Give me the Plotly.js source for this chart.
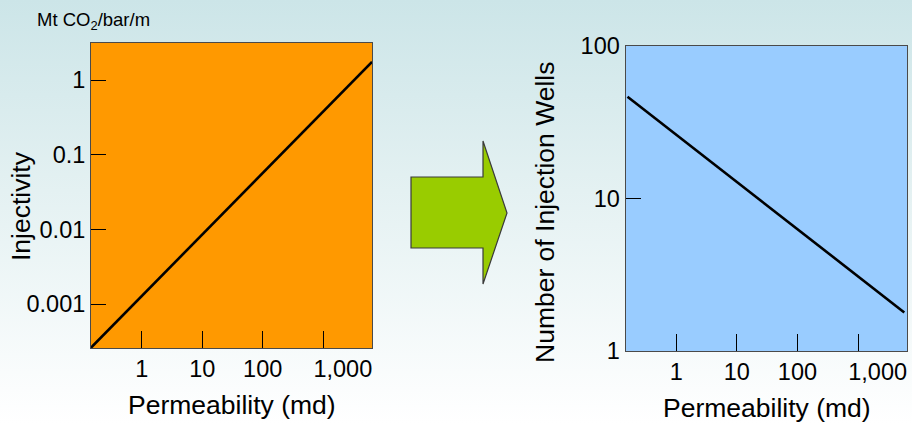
<!DOCTYPE html>
<html>
<head>
<meta charset="utf-8">
<script src="https://cdn.plot.ly/plotly-3.0.1.min.js"></script>
<style>
  html, body { margin: 0; padding: 0; }
  body { width: 912px; height: 424px; overflow: hidden;
         background: linear-gradient(to bottom, #cce5e8 0%, #e4f1f2 45%, #ffffff 100%); }
  #chart { width: 912px; height: 424px; }
</style>
</head>
<body>
<div id="chart"></div>
<script>
// ---- data ----
const permLeft = [0.145, 6400];          // permeability (md)
const injectivity = [0.00026, 1.75];     // Mt CO2/bar/m
const permRight = [0.157, 5800];         // permeability (md)
const wells = [46.5, 1.79];              // number of injection wells

const permTicks = [1, 10, 100, 1000];
// the "1,000" label sits to the right of its tick in the original
const permTickText = ['1', '10', '100', '\u00a0\u00a0\u00a0\u00a0\u00a0\u00a01,000'];
const injTicks = [0.001, 0.01, 0.1, 1];
const injTickText = ['0.001', '0.01', '0.1', '1'];
const wellTicks = [1, 10, 100];
const wellTickText = ['1', '10', '100'];

const W = 912, H = 424;
const px = x => x / W;
const py = y => 1 - y / H;
const FONT = '"Liberation Sans", Arial, Helvetica, sans-serif';
const TICK = 23.5, TITLE = 26.5;

const traces = [
  { x: permLeft, y: injectivity, xaxis: 'x', yaxis: 'y', mode: 'lines',
    line: { color: '#000', width: 2.6 }, hoverinfo: 'x+y', showlegend: false },
  { x: permRight, y: wells, xaxis: 'x2', yaxis: 'y2', mode: 'lines',
    line: { color: '#000', width: 2.6 }, hoverinfo: 'x+y', showlegend: false }
];

const axBase = {
  type: 'log', showgrid: false, zeroline: false,
  showline: true, mirror: true, linecolor: '#4a4a4a', linewidth: 1,
  ticks: 'inside', tickcolor: '#000', tickwidth: 1.2, tickangle: 0,
  tickfont: { family: FONT, size: TICK, color: '#000' },
  fixedrange: true
};

// arrow (decoration) in pixel coordinates
const arrowPts = [[411,177],[483,177],[483,141],[507,213],[483,284],[483,248],[411,248]];
const arrowPath = 'M ' + arrowPts.map(p => px(p[0]).toFixed(5) + ' ' + py(p[1]).toFixed(5)).join(' L ') + ' Z';

const layout = {
  width: W, height: H,
  margin: { l: 0, r: 0, t: 0, b: 0 },
  paper_bgcolor: 'rgba(0,0,0,0)',
  plot_bgcolor: 'rgba(0,0,0,0)',
  font: { family: FONT, color: '#000' },
  xaxis: Object.assign({}, axBase, {
    domain: [px(91), px(372)], anchor: 'y',
    range: [Math.log10(permLeft[0]), Math.log10(permLeft[1])],
    tickvals: permTicks, ticktext: permTickText, ticklen: 17
  }),
  yaxis: Object.assign({}, axBase, {
    domain: [py(348), py(43)], anchor: 'x',
    range: [-3.589, 0.4955],
    tickvals: injTicks, ticktext: injTickText, ticklen: 15
  }),
  xaxis2: Object.assign({}, axBase, {
    domain: [px(625.5), px(907)], anchor: 'y2',
    range: [Math.log10(0.1455), Math.log10(6430)],
    tickvals: permTicks, ticktext: permTickText, ticklen: 17
  }),
  yaxis2: Object.assign({}, axBase, {
    domain: [py(351), py(46)], anchor: 'x2',
    range: [0, 2],
    tickvals: wellTicks, ticktext: wellTickText, ticklen: 15
  }),
  shapes: [
    { type: 'rect', xref: 'x domain', yref: 'y domain', x0: 0, x1: 1, y0: 0, y1: 1,
      fillcolor: '#ff9900', line: { width: 0 }, layer: 'below' },
    { type: 'rect', xref: 'x2 domain', yref: 'y2 domain', x0: 0, x1: 1, y0: 0, y1: 1,
      fillcolor: '#99ccff', line: { width: 0 }, layer: 'below' },
    { type: 'path', xref: 'paper', yref: 'paper', path: arrowPath,
      fillcolor: '#99cc00', line: { color: '#3a3a3a', width: 1.2 } }
  ],
  annotations: [
    { xref: 'paper', yref: 'paper', x: px(35), y: py(21), xanchor: 'left', yanchor: 'middle',
      text: 'Mt CO<sub>2</sub>/bar/m', showarrow: false, font: { size: 18.5, family: FONT } },
    { xref: 'paper', yref: 'paper', x: px(231.5), y: py(405), xanchor: 'center', yanchor: 'middle',
      text: 'Permeability (md)', showarrow: false, font: { size: TITLE, family: FONT } },
    { xref: 'paper', yref: 'paper', x: px(21), y: py(206), xanchor: 'center', yanchor: 'middle',
      text: 'Injectivity', textangle: -90, showarrow: false, font: { size: TITLE, family: FONT } },
    { xref: 'paper', yref: 'paper', x: px(767), y: py(408), xanchor: 'center', yanchor: 'middle',
      text: 'Permeability (md)', showarrow: false, font: { size: TITLE, family: FONT } },
    { xref: 'paper', yref: 'paper', x: px(545), y: py(213), xanchor: 'center', yanchor: 'middle',
      text: 'Number of Injection Wells', textangle: -90, showarrow: false, font: { size: TITLE, family: FONT } }
  ]
};

Plotly.newPlot('chart', traces, layout, { displayModeBar: false });
</script>
</body>
</html>
